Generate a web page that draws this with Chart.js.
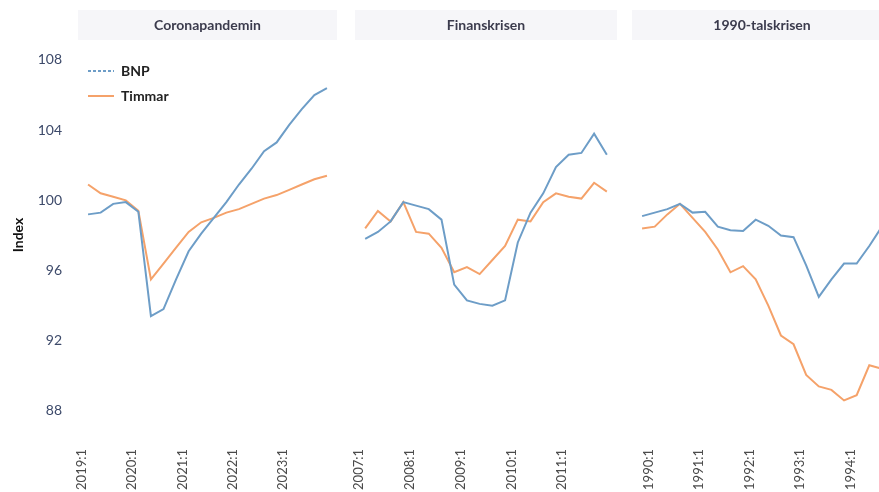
<!DOCTYPE html>
<html>
<head>
<meta charset="utf-8">
<script src="https://cdn.jsdelivr.net/npm/chart.js@4.4.1/dist/chart.umd.min.js"></script>
<style>
  html, body { margin: 0; padding: 0; background: #fff; overflow: hidden; width: 879px; height: 492px; }
  canvas { position: absolute; top: 0; }
</style>
</head>
<body>
<canvas id="corona" width="340" height="492" style="left:0"></canvas>
<canvas id="finans" width="280" height="492" style="left:340px"></canvas>
<canvas id="nittio" width="280" height="492" style="left:620px"></canvas>
<script>
// data (index)
var yTicks = [88, 92, 96, 100, 104, 108];

var coronaQuarters = ['2019:1','2019:2','2019:3','2019:4','2020:1','2020:2','2020:3','2020:4','2021:1','2021:2',
                      '2021:3','2021:4','2022:1','2022:2','2022:3','2022:4','2023:1','2023:2','2023:3','2023:4'];
var coronaBnp    = [99.2, 99.3, 99.8, 99.9, 99.35, 93.4, 93.8, 95.5, 97.1, 98.1, 99.0, 99.9, 100.9, 101.8, 102.8, 103.3, 104.3, 105.2, 106.0, 106.4];
var coronaTimmar = [100.9, 100.4, 100.2, 100.0, 99.4, 95.5, 96.4, 97.3, 98.2, 98.75, 99.0, 99.3, 99.5, 99.8, 100.1, 100.3, 100.6, 100.9, 101.2, 101.4];
var coronaTicks  = ['2019:1','2020:1','2021:1','2022:1','2023:1'];

var finansQuarters = ['2007:1','2007:2','2007:3','2007:4','2008:1','2008:2','2008:3','2008:4','2009:1','2009:2',
                      '2009:3','2009:4','2010:1','2010:2','2010:3','2010:4','2011:1','2011:2','2011:3','2011:4'];
var finansBnp    = [97.8, 98.2, 98.8, 99.9, 99.7, 99.5, 98.9, 95.2, 94.3, 94.1, 94.0, 94.3, 97.6, 99.3, 100.4, 101.9, 102.6, 102.7, 103.8, 102.6];
var finansTimmar = [98.4, 99.4, 98.8, 99.9, 98.2, 98.1, 97.3, 95.9, 96.2, 95.8, 96.6, 97.4, 98.9, 98.8, 99.9, 100.4, 100.2, 100.1, 101.0, 100.5];
var finansTicks  = ['2007:1','2008:1','2009:1','2010:1','2011:1'];

var nittioQuarters = ['1989:4','1990:1','1990:2','1990:3','1990:4','1991:1','1991:2','1991:3','1991:4','1992:1',
                      '1992:2','1992:3','1992:4','1993:1','1993:2','1993:3','1993:4','1994:1','1994:2','1994:3'];
var nittioBnp    = [99.1, 99.3, 99.5, 99.8, 99.3, 99.35, 98.5, 98.3, 98.25, 98.9, 98.55, 98.0, 97.9, 96.3, 94.5, 95.5, 96.4, 96.4, 97.4, 98.5];
var nittioTimmar = [98.4, 98.5, 99.2, 99.8, 99.0, 98.2, 97.2, 95.9, 96.25, 95.5, 94.0, 92.3, 91.8, 90.05, 89.4, 89.2, 88.6, 88.9, 90.6, 90.4];
var nittioTicks  = ['1990:1','1991:1','1992:1','1993:1','1994:1'];

var BLUE = '#6d9dc7', ORANGE = '#f5a26a';

Chart.defaults.font.family = 'Lato, "Open Sans", sans-serif';

// quarter -> year position (points sit mid-quarter)
function qPos(s) {
  var p = s.split(':');
  return +p[0] + (p[1] - 1) / 4 + 0.125;
}
function tickPos(s) {
  var p = s.split(':');
  return +p[0] + (p[1] - 1) / 4;
}

var stripPlugin = {
  id: 'strip',
  beforeDraw: function(chart, args, opts) {
    var ctx = chart.ctx, a = chart.chartArea;
    ctx.save();
    ctx.fillStyle = '#f6f6f9';
    ctx.fillRect(a.left, 10, a.right - a.left, 30);
    ctx.fillStyle = '#3b3b4d';
    ctx.font = 'bold 14px Lato, sans-serif';
    ctx.textAlign = 'center';
    ctx.textBaseline = 'middle';
    ctx.fillText(opts.text, (a.left + a.right) / 2, 25);
    ctx.restore();
  }
};

var legendPlugin = {
  id: 'innerLegend',
  afterDraw: function(chart, args, opts) {
    if (!opts.show) return;
    var ctx = chart.ctx;
    ctx.save();
    chart.data.datasets.forEach(function(ds, i) {
      var y = 71 + i * 25;
      ctx.strokeStyle = ds.borderColor;
      ctx.lineWidth = 2;
      ctx.setLineDash(i == 0 ? [3, 2] : []);
      ctx.beginPath();
      ctx.moveTo(88, y);
      ctx.lineTo(114, y);
      ctx.stroke();
      ctx.setLineDash([]);
      ctx.fillStyle = '#222';
      ctx.font = 'bold 14px Lato, sans-serif';
      ctx.textBaseline = 'middle';
      ctx.fillText(ds.label, 121, y);
    });
    ctx.restore();
  }
};

function makePanel(id, title, quarters, bnp, timmar, tickLabels, o) {
  var xs = quarters.map(qPos);
  var tpos = tickLabels.map(tickPos);
  return new Chart(document.getElementById(id), {
    type: 'line',
    data: {
      datasets: [{
        label: 'BNP',
        data: bnp.map(function(v, i) { return {x: xs[i], y: v}; }),
        borderColor: BLUE,
        borderWidth: 2,
        pointRadius: 0,
        tension: 0
      }, {
        label: 'Timmar',
        data: timmar.map(function(v, i) { return {x: xs[i], y: v}; }),
        borderColor: ORANGE,
        borderWidth: 2,
        pointRadius: 0,
        tension: 0
      }]
    },
    options: {
      responsive: false,
      animation: false,
      layout: { padding: { top: 45, left: o.padLeft, right: o.padRight, bottom: 0 } },
      plugins: {
        legend: { display: false },
        tooltip: { enabled: false },
        strip: { text: title },
        innerLegend: { show: o.legend }
      },
      scales: {
        x: {
          type: 'linear',
          min: xs[0] - 0.2,
          max: xs[xs.length - 1] + 0.2,
          grid: { display: false },
          border: { display: false },
          afterBuildTicks: function(s) {
            s.ticks = tpos.map(function(v) { return {value: v}; });
          },
          afterFit: function(s) { s.height = 67; },
          ticks: {
            autoSkip: false,
            minRotation: 90,
            maxRotation: 90,
            padding: 16,
            color: '#4a4a4a',
            font: { size: 13 },
            callback: function(v, i) { return tickLabels[i]; }
          }
        },
        y: {
          display: o.yAxis,
          min: 87.2,
          max: 108.85,
          grid: { display: false, drawTicks: false },
          border: { display: false },
          afterBuildTicks: function(s) {
            s.ticks = yTicks.map(function(v) { return {value: v}; });
          },
          afterFit: function(s) { s.width = o.yAxis ? 78 : 0; },
          title: {
            display: true,
            text: 'Index',
            color: '#111',
            font: { size: 14, weight: 'bold' },
            padding: { top: 10, bottom: 0 }
          },
          ticks: {
            padding: 16,
            color: '#3d4a6a',
            font: { size: 14 }
          }
        }
      }
    },
    plugins: [stripPlugin, legendPlugin]
  });
}

var coronaChart = makePanel('corona', 'Coronapandemin', coronaQuarters, coronaBnp, coronaTimmar, coronaTicks,
  { padLeft: 0, padRight: 3, yAxis: true, legend: true });
var finansChart = makePanel('finans', 'Finanskrisen', finansQuarters, finansBnp, finansTimmar, finansTicks,
  { padLeft: 15, padRight: 3, yAxis: false, legend: false });
var nittioChart = makePanel('nittio', '1990-talskrisen', nittioQuarters, nittioBnp, nittioTimmar, nittioTicks,
  { padLeft: 12, padRight: 8, yAxis: false, legend: false });
</script>
</body>
</html>
